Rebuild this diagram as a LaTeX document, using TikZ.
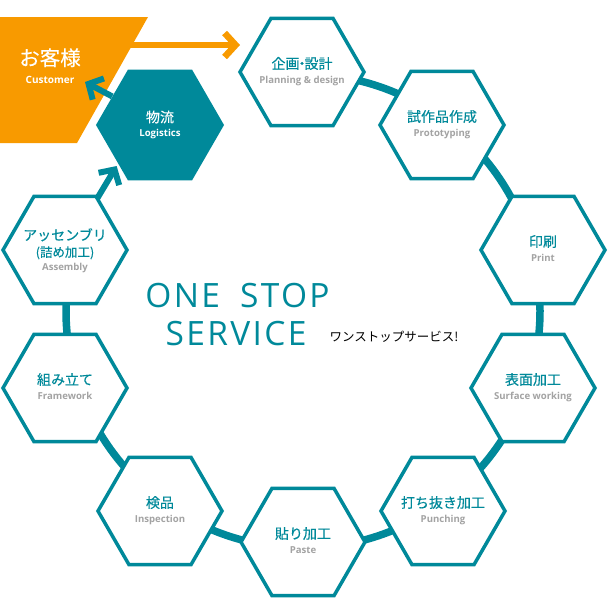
\documentclass[tikz,border=0pt]{standalone}
\usepackage{fontspec}
\setmainfont{Open Sans}
\newfontfamily\jpf{Noto Sans CJK JP}
\newfontfamily\jpbf[FakeBold=0.35]{Noto Sans CJK JP}
\newfontfamily\ttlf[LetterSpace=7]{Open Sans}
\usetikzlibrary{shapes.geometric,arrows.meta,calc}
\definecolor{tealc}{HTML}{00899A}
\definecolor{orangec}{HTML}{F89A00}
\definecolor{grayc}{HTML}{A3A3A3}
\tikzset{
  hexa/.style={regular polygon, regular polygon sides=6, minimum size=124pt,
    inner sep=0pt, outer sep=0pt, draw=tealc, line width=3.5pt, fill=white},
  hexfill/.style={hexa, fill=tealc},
  jptext/.style={anchor=base, inner sep=0pt, text=tealc, font=\jpbf\fontsize{14}{16}\selectfont},
  jpsmall/.style={jptext, font=\jpbf\fontsize{12.5}{14}\selectfont},
  entext/.style={anchor=base, inner sep=0pt, text=grayc, font=\bfseries\fontsize{9.6}{11}\selectfont},
  ring/.style={draw=tealc, line width=7.5pt},
  tarrow/.style={draw=tealc, line width=6pt, -{Straight Barb[length=11pt,width=24pt]}},
  oarrow/.style={draw=orangec, line width=6.5pt, -{Straight Barb[length=11pt,width=24pt]}},
  ttl/.style={anchor=base, inner sep=0pt, text=tealc, font=\ttlf\fontsize{33.5}{36}\selectfont},
}
\newcommand\mkhex[5]{%
  \node[hexa] (#1) at (#2,#3) {};
  \node[jptext] (#1-j) at ($(#1.center)+(0,-3.2)$) {#4};
  \node[entext] (#1-e) at ($(#1.center)+(0,11)$) {#5};
}
\begin{document}
\begin{tikzpicture}[x=1pt,y=-1pt]
\useasboundingbox (0,0) rectangle (608,598);
% customer block
\fill[orangec] (0,17) -- (148,17) -- (77,143) -- (0,143) -- cycle;
\node[anchor=base, inner sep=0pt, text=white, font=\jpbf\fontsize{20.5}{22}\selectfont] (cust) at (50,65.5) {お客様};
\node[anchor=base, inner sep=0pt, text=white, font=\bfseries\fontsize{10}{12}\selectfont] (cust-e) at (50,83) {Customer};
\coordinate (custedge) at (128,45);
\coordinate (custtip) at (85,82);
% ring behind hexagons
\coordinate (ringc) at (303,311);
\draw[ring] (ringc) ++(-90:237) arc[start angle=-90, end angle=194, radius=237];
% hexagons
\mkhex{plan}{302}{72}{企画{\kern-4.5pt}・{\kern-4.5pt}設計}{Planning \& design}
\mkhex{proto}{442}{125}{試作品作成}{Prototyping}
\mkhex{print}{543}{250}{印刷}{Print}
\mkhex{surf}{533}{388}{表面加工}{Surface working}
\mkhex{punch}{443}{511}{打ち抜き加工}{Punching}
\mkhex{paste}{303}{542}{貼り加工}{Paste}
\mkhex{insp}{160}{511}{検品}{Inspection}
\mkhex{frame}{65}{388}{組み立て}{Framework}
% assembly
\node[hexa] (assy) at (65,250) {};
\node[jptext] (assy-j1) at ($(assy.center)+(0,-9.7)$) {アッセンブリ};
\node[jpsmall] (assy-j2) at ($(assy.center)+(0,6.8)$) {(詰め加工)};
\node[entext] (assy-e) at ($(assy.center)+(0,20)$) {Assembly};
% logistics
\node[hexfill] (logi) at (160,125) {};
\node[jptext, text=white] (logi-j) at ($(logi.center)+(0,-2.7)$) {物流};
\node[entext, text=white] (logi-e) at ($(logi.center)+(0,11.2)$) {Logistics};
% arrows
\draw[oarrow] (custedge) -- ($(plan.center)+(-62,-27)$);
\draw[tarrow, shorten <=2pt] (logi.149) -- (custtip);
\draw[tarrow, shorten >=5pt] (assy.58) -- (logi.-138);
% title
\node[ttl] (one) at (237.5,307) {ONE\hspace{9pt} STOP};
\node[ttl] (serv) at (236,345.5) {SERVICE};
\node[anchor=base, inner sep=0pt, text=black, font=\jpf\fontsize{12.5}{14}\selectfont] (ws) at (394,341) {ワンストップサービス!};
\end{tikzpicture}
\end{document}
